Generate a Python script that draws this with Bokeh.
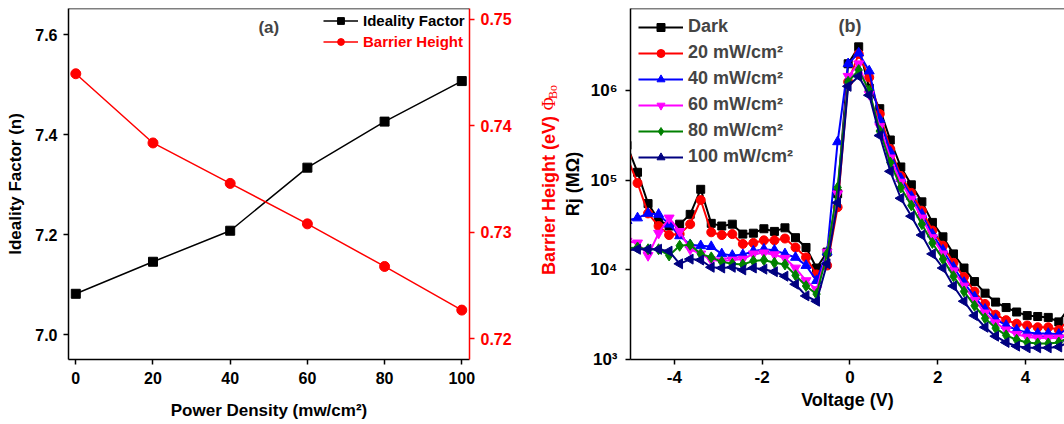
import math
from bokeh.plotting import figure
from bokeh.models import (Range1d, LinearAxis, Legend, LegendItem, Label, FixedTicker,
                          CustomJSTickFormatter, PrintfTickFormatter, Span, Plot)
from bokeh.layouts import row
from bokeh.embed import file_html
from bokeh.resources import INLINE

FONT = "Liberation Sans"
SERIF = "Liberation Serif"

# ---------------- panel (a) data ----------------
power_density = [0, 20, 40, 60, 80, 100]
ideality_factor = [7.082, 7.146, 7.208, 7.334, 7.426, 7.507]
barrier_height = [0.7449, 0.7384, 0.7346, 0.7308, 0.7268, 0.7227]
a_x_ticks = [0, 20, 40, 60, 80, 100]
a_y_ticks = [7.0, 7.2, 7.4, 7.6]
a_y2_ticks = [0.72, 0.73, 0.74, 0.75]

# ---------------- panel (b) data ----------------
voltage = [-5.08, -4.84, -4.60, -4.36, -4.12, -3.88, -3.64, -3.40, -3.16, -2.92,
           -2.68, -2.44, -2.20, -1.96, -1.72, -1.48, -1.24, -1.00, -0.76, -0.52,
           -0.28, -0.04, 0.20, 0.44, 0.68, 0.92, 1.16, 1.40, 1.64, 1.88,
           2.12, 2.36, 2.60, 2.84, 3.08, 3.32, 3.56, 3.80, 4.04, 4.28,
           4.52, 4.76, 5.00]
rj_dark = [2.46e5, 1.23e5, 5.50e4, 3.63e4, 3.09e4, 3.24e4, 4.17e4, 7.94e4, 3.31e4, 3.09e4,
           3.24e4, 2.51e4, 2.57e4, 2.88e4, 2.69e4, 2.95e4, 2.29e4, 1.78e4, 1.05e4, 1.58e4,
           7.08e4, 2.00e6, 3.09e6, 1.07e6, 6.31e5, 2.82e5, 1.41e5, 8.91e4, 5.75e4, 3.39e4,
           2.34e4, 1.51e4, 1.05e4, 7410, 5500, 4370, 3800, 3390, 3090, 3020,
           2950, 2630, 3800]
rj_20 = [1.82e5, 9.33e4, 4.27e4, 3.09e4, 2.45e4, 2.51e4, 3.24e4, 6.03e4, 2.63e4, 2.45e4,
         2.51e4, 1.95e4, 2.00e4, 2.14e4, 2.14e4, 2.24e4, 1.78e4, 1.38e4, 8910, 1.12e4,
         5.01e4, 1.26e6, 2.57e6, 1.41e6, 5.50e5, 2.24e5, 1.12e5, 7.24e4, 4.57e4, 2.75e4,
         1.86e4, 1.20e4, 8320, 5750, 4170, 3160, 2750, 2510, 2400, 2290,
         2290, 2140, 2820]
rj_40 = [3.55e4, 3.80e4, 4.27e4, 4.17e4, 3.24e4, 2.40e4, 1.91e4, 1.86e4, 1.82e4, 1.51e4,
         1.45e4, 1.48e4, 1.62e4, 1.70e4, 1.66e4, 1.51e4, 1.38e4, 1.12e4, 7590, 1.58e4,
         2.69e5, 2.00e6, 2.63e6, 1.66e6, 4.79e5, 2.09e5, 1.05e5, 6.61e4, 4.17e4, 2.51e4,
         1.66e4, 1.07e4, 7240, 5010, 3630, 2820, 2400, 2140, 2000, 1950,
         1950, 1910, 2290]
rj_60 = [2.09e4, 2.00e4, 1.45e4, 2.57e4, 3.80e4, 2.69e4, 1.70e4, 1.51e4, 1.29e4, 1.26e4,
         1.29e4, 1.32e4, 1.51e4, 1.55e4, 1.48e4, 1.35e4, 1.05e4, 7590, 6030, 1.58e4,
         7.08e4, 1.45e6, 2.00e6, 9.12e5, 3.98e5, 1.78e5, 9.55e4, 6.17e4, 3.80e4, 2.29e4,
         1.51e4, 9770, 6610, 4570, 3310, 2570, 2140, 1910, 1780, 1740,
         1740, 1740, 2000]
rj_80 = [1.74e4, 1.78e4, 1.70e4, 1.70e4, 1.45e4, 1.86e4, 1.91e4, 1.51e4, 1.38e4, 1.23e4,
         1.17e4, 1.15e4, 1.26e4, 1.29e4, 1.20e4, 1.15e4, 8710, 6610, 5370, 1.51e4,
         8.32e4, 1.26e6, 1.70e6, 1.00e6, 3.55e5, 1.58e5, 8.32e4, 5.25e4, 3.24e4, 2.00e4,
         1.32e4, 8510, 5750, 3980, 2880, 2240, 1860, 1660, 1550, 1510,
         1510, 1550, 1780]
rj_100 = [1.66e4, 1.70e4, 1.70e4, 1.70e4, 1.62e4, 1.17e4, 1.32e4, 1.29e4, 1.07e4, 1.05e4,
          1.07e4, 1.00e4, 1.05e4, 1.02e4, 9550, 8510, 6920, 5130, 4470, 1.17e4,
          5.62e4, 1.12e6, 1.45e6, 8.91e5, 3.16e5, 1.26e5, 6.31e4, 3.98e4, 2.45e4, 1.51e4,
          1.05e4, 6610, 4470, 3090, 2290, 1820, 1550, 1410, 1350, 1350,
          1350, 1380, 1580]
series_labels = ["Dark", "20 mW/cm\u00b2", "40 mW/cm\u00b2", "60 mW/cm\u00b2",
                 "80 mW/cm\u00b2", "100 mW/cm\u00b2"]
series_values = [rj_dark, rj_20, rj_40, rj_60, rj_80, rj_100]
series_colors = ["#000000", "#FF0000", "#0000FF", "#FF00FF", "#008000", "#000080"]
series_markers = ["square", "circle", "triangle", "inverted_triangle", "diamond", "triangle"]
series_sizes = [8, 9, 10, 10, 11, 10]
series_angles = [0, 0, 0, 0, 0, math.pi / 2]
b_x_ticks = [-4, -2, 0, 2, 4]
b_y_ticks = [1e3, 1e4, 1e5, 1e6]


def style_axis(ax, size="16px", title_size="17px", color="black"):
    ax.major_label_text_font = FONT
    ax.major_label_text_font_style = "bold"
    ax.major_label_text_font_size = size
    ax.major_label_text_color = color
    ax.axis_label_text_font = FONT
    ax.axis_label_text_font_style = "bold"
    ax.axis_label_text_font_size = title_size
    ax.axis_label_text_color = color
    ax.axis_line_color = color
    ax.axis_line_width = 1.5
    ax.major_tick_line_color = color
    ax.major_tick_line_width = 1.5
    ax.major_tick_in = 0
    ax.major_tick_out = 5
    ax.minor_tick_line_color = None


# ---------------- panel (a) ----------------
A_TOP, A_BOTTOM = 7.652, 6.9507
BH_TOP, BH_BOTTOM = 0.75103, 0.71806
p1 = figure(width=540, height=424, output_backend="svg", toolbar_location=None,
            x_range=Range1d(-1.89, 102.0), y_range=Range1d(A_BOTTOM, A_TOP),
            min_border_left=68, min_border_right=71, min_border_top=8, min_border_bottom=65)
p1.grid.visible = False
p1.outline_line_color = None
p1.extra_y_ranges = {"bh": Range1d(BH_BOTTOM, BH_TOP)}

p1.xaxis.ticker = FixedTicker(ticks=a_x_ticks)
p1.yaxis.ticker = FixedTicker(ticks=a_y_ticks)
p1.yaxis.formatter = PrintfTickFormatter(format="%.1f")
p1.xaxis.axis_label = "Power Density (mw/cm\u00b2)"
p1.yaxis.axis_label = "Ideality Factor (n)"
for ax in p1.xaxis + p1.yaxis:
    style_axis(ax)
p1.xaxis.major_label_standoff = 7
p1.xaxis.axis_label_standoff = 14
p1.yaxis.major_label_standoff = 6
p1.yaxis.axis_label_standoff = 7

ax2 = LinearAxis(y_range_name="bh", ticker=FixedTicker(ticks=a_y2_ticks),
                 formatter=PrintfTickFormatter(format="%.2f"))
style_axis(ax2, color="#FF0000")
ax2.major_label_standoff = 6
p1.add_layout(ax2, "right")
p1.add_layout(Span(location=A_TOP, dimension="width", line_color="black", line_width=1.5))

r1 = p1.line(power_density, ideality_factor, line_color="black", line_width=1.5)
s1 = p1.scatter(power_density, ideality_factor, marker="square", size=9, color="black")
r2 = p1.line(power_density, barrier_height, line_color="#FF0000", line_width=1.5, y_range_name="bh")
s2 = p1.scatter(power_density, barrier_height, marker="circle", size=10, color="#FF0000",
                y_range_name="bh")

for items, loc, col in (([LegendItem(label="Ideality Factor", renderers=[r1, s1])], (255, 330), "black"),
                        ([LegendItem(label="Barrier Height", renderers=[r2, s2])], (255, 309), "#FF0000")):
    lg = Legend(items=items, location=loc, padding=0, margin=0, spacing=0,
                glyph_width=35, glyph_height=17, label_height=17, label_standoff=5,
                label_text_font=FONT, label_text_font_style="bold", label_text_font_size="15px",
                label_text_color=col, border_line_color=None, background_fill_alpha=0)
    p1.add_layout(lg)

p1.add_layout(Label(x=50, y=7.614, text="(a)", text_font=FONT, text_font_style="bold",
                    text_font_size="17px", text_align="center", text_baseline="middle"))

# ---------------- strip (no axes) holding panel (a)'s right-axis title ----------------
# strip coordinates: x = pixels from strip's left, y = pixels measured up from page bottom
strip = Plot(width=20, height=424, output_backend="svg", toolbar_location=None,
             x_range=Range1d(0, 20), y_range=Range1d(0, 424), min_border=0,
             outline_line_color=None)
# pieces (centre-anchored, rotated to read bottom to top): bold text, serif Phi, subscript "Bo"
for txt, fnt, sty, fsz, sx, sy in (("Barrier Height (eV)", FONT, "bold", "18px", 8, 198),
                                  ("\u03a6", SERIF, "normal", "18px", 8, 309),
                                  ("Bo", SERIF, "normal", "12px", 12, 323)):
    strip.add_layout(Label(x=sx, y=sy, text=txt, text_font=fnt, text_font_style=sty,
                           text_font_size=fsz, text_color="#FF0000", angle=math.pi / 2,
                           text_align="center", text_baseline="middle"))

# ---------------- panel (b) ----------------
B_TOP = 8.28e6
p2 = figure(width=504, height=424, output_backend="svg", toolbar_location=None,
            y_axis_type="log", x_range=Range1d(-5, 4.89), y_range=Range1d(1000, B_TOP),
            min_border_left=64, min_border_right=0, min_border_top=7, min_border_bottom=57)
p2.grid.visible = False
p2.outline_line_color = None
p2.xaxis.ticker = FixedTicker(ticks=b_x_ticks)
p2.xaxis.formatter = PrintfTickFormatter(format="%d")
p2.yaxis.ticker = FixedTicker(ticks=b_y_ticks)
p2.yaxis.formatter = CustomJSTickFormatter(code="""
const sup = {"0":"\u2070","1":"\u00b9","2":"\u00b2","3":"\u00b3","4":"\u2074","5":"\u2075",
             "6":"\u2076","7":"\u2077","8":"\u2078","9":"\u2079","-":"\u207b"};
const e = Math.round(Math.log10(tick));
return "10" + String(e).split("").map(c => sup[c]).join("");
""")
p2.xaxis.axis_label = "Voltage (V)"
p2.yaxis.axis_label = "Rj (M\u03a9)"
for ax in p2.xaxis + p2.yaxis:
    style_axis(ax, size="17px", title_size="18px")
p2.xaxis.major_label_standoff = 6
p2.xaxis.axis_label_standoff = 4
p2.yaxis.major_label_standoff = 8
p2.yaxis.axis_label_standoff = 4
p2.add_layout(Span(location=B_TOP, dimension="width", line_color="black", line_width=1.5))

items = []
for lab, vals, col, mk, sz, ang in zip(series_labels, series_values, series_colors,
                                       series_markers, series_sizes, series_angles):
    lr = p2.line(voltage, vals, line_color=col, line_width=2)
    sr = p2.scatter(voltage, vals, marker=mk, size=sz, color=col, angle=ang)
    items.append(LegendItem(label=lab, renderers=[lr, sr]))

lg2 = Legend(items=items, location="top_left", padding=0, margin=8, spacing=5,
             glyph_width=45, glyph_height=20, label_height=20, label_standoff=5,
             label_text_font=FONT, label_text_font_style="bold", label_text_font_size="18px",
             border_line_color=None, background_fill_alpha=0)
p2.add_layout(lg2)

p2.add_layout(Label(x=0, y=5.27e6, text="(b)", text_font=FONT, text_font_style="bold",
                    text_font_size="18px", text_align="center", text_baseline="middle"))

layout = row(p1, strip, p2)
open("out.html", "w").write(file_html(layout, INLINE))
